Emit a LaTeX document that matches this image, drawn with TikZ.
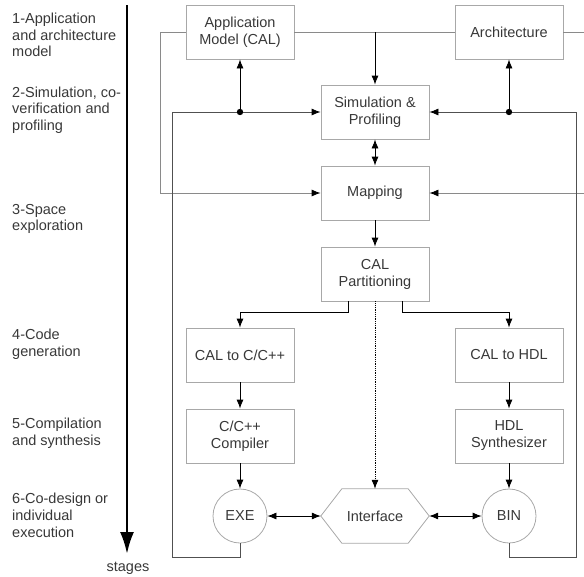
\documentclass[tikz,border=0pt]{standalone}
\usepackage{fontspec}
\setmainfont{Liberation Sans}
\usetikzlibrary{arrows.meta,calc}
\definecolor{boxgray}{HTML}{A8A8A8}
\definecolor{txtgray}{HTML}{383838}
\definecolor{linegray}{HTML}{8A8A8A}
\definecolor{fbgray}{HTML}{505050}
\tikzset{
  stagebox/.style={draw=boxgray, line width=0.8pt, minimum width=108pt, minimum height=54pt,
    align=center, inner sep=0pt, text=txtgray, font=\fontsize{14.5}{17}\selectfont},
  stagecirc/.style={draw=boxgray, line width=0.8pt, circle, minimum size=54pt, inner sep=0pt,
    text=txtgray, font=\fontsize{14.5}{17}\selectfont},
  lbl/.style={anchor=west, align=left, inner sep=0pt, text=txtgray, font=\fontsize{14.5}{16.7}\selectfont},
  arr/.style={line width=0.8pt, -{Latex[length=9pt,width=7pt,color=black]}},
  darr/.style={line width=0.8pt, {Latex[length=9pt,width=7pt]}-{Latex[length=9pt,width=7pt]}},
  gl/.style={draw=linegray, line width=0.8pt},
  fb/.style={draw=fbgray, line width=0.8pt},
}
\begin{document}
\begin{tikzpicture}[x=1pt,y=-1pt]
\useasboundingbox (0,0) rectangle (584,576);
% stage labels
\node[lbl] (l1) at (12,35) {1-Application\\and architecture\\model};
\node[lbl] (l2) at (12,110) {2-Simulation, co-\\verification and\\profiling};
\node[lbl] (l3) at (12,219) {3-Space\\exploration};
\node[lbl] (l4) at (12,344) {4-Code\\generation};
\node[lbl] (l5) at (12,433.5) {5-Compilation\\and synthesis};
\node[lbl] (l6) at (12,515.5) {6-Co-design or\\individual\\execution};
\coordinate (st0) at (127,5);
\node[inner sep=0pt, text=txtgray, font=\fontsize{14.5}{17}\selectfont] (stages) at (128,568) {stages};
\coordinate (st1) at (127,554);
\draw[line width=2.6pt, -{Latex[length=22pt,width=14pt]}] (st0) -- (st1);
% boxes
\node[stagebox] (app) at (240,32) {Application\\Model (CAL)};
\node[stagebox] (arch) at (509,32) {Architecture};
\node[stagebox] (sim) at (375,112) {Simulation \&\\Profiling};
\node[stagebox] (map) at (375,193) {Mapping};
\node[stagebox] (part) at (375,274) {CAL\\Partitioning};
\node[stagebox] (c2c) at (240,355) {CAL to C/C++};
\node[stagebox] (c2h) at (509,355) {CAL to HDL};
\node[stagebox] (cc) at (240,436) {C/C++\\Compiler};
\node[stagebox] (hs) at (509,436) {HDL\\Synthesizer};
\node[stagecirc] (exe) at (240,516) {EXE};
\node[stagecirc] (bin) at (509,516) {BIN};
\node[minimum width=108pt, minimum height=54pt, inner sep=0pt, text=txtgray, font=\fontsize{14.5}{17}\selectfont] (iface) at (375,516) {Interface};
\draw[draw=boxgray, line width=0.8pt] (iface.west) -- ([xshift=21pt]iface.north west) -- ([xshift=-21pt]iface.north east)
  -- (iface.east) -- ([xshift=-21pt]iface.south east) -- ([xshift=21pt]iface.south west) -- cycle;
% top connectors
\coordinate (j) at (375,32);
\draw[gl] (app.east) -- (arch.west);
\draw[arr] (j) -- (sim.north);
\coordinate (lc) at (160,32);
\draw[gl, arr] (app.west) -- (lc) -- (160,193) -- (map.west);
\coordinate (ar) at (584,32);
\coordinate (mr) at (584,193);
\draw[gl] (arch.east) -- (ar);
\draw[gl, arr] (mr) -- (map.east);
% feedback loops
\coordinate (d1) at (240,112);
\coordinate (d2) at (509,112);
\draw[fb, arr] (exe.south) |- (172,557) |- (sim.west);
\draw[fb, arr] (bin.south) |- (576,557) |- (sim.east);
\fill (d1) circle (3.2);
\fill (d2) circle (3.2);
\draw[arr] (d1) -- (app.south);
\draw[arr] (d2) -- (arch.south);
% main flow
\draw[darr] (sim.south) -- (map.north);
\draw[arr] (map.south) -- (part.north);
\draw[arr] ([xshift=-27pt]part.south) -- ++(0,11) -| (c2c.north);
\draw[arr] ([xshift=27pt]part.south) -- ++(0,11) -| (c2h.north);
\draw[arr, densely dotted] (part.south) -- (iface.north);
\draw[arr] (c2c) -- (cc);
\draw[arr] (c2h) -- (hs);
\draw[arr] (cc) -- (exe);
\draw[arr] (hs) -- (bin);
\draw[darr] (exe.east) -- (iface.west);
\draw[darr] (iface.east) -- (bin.west);
\end{tikzpicture}
\end{document}
